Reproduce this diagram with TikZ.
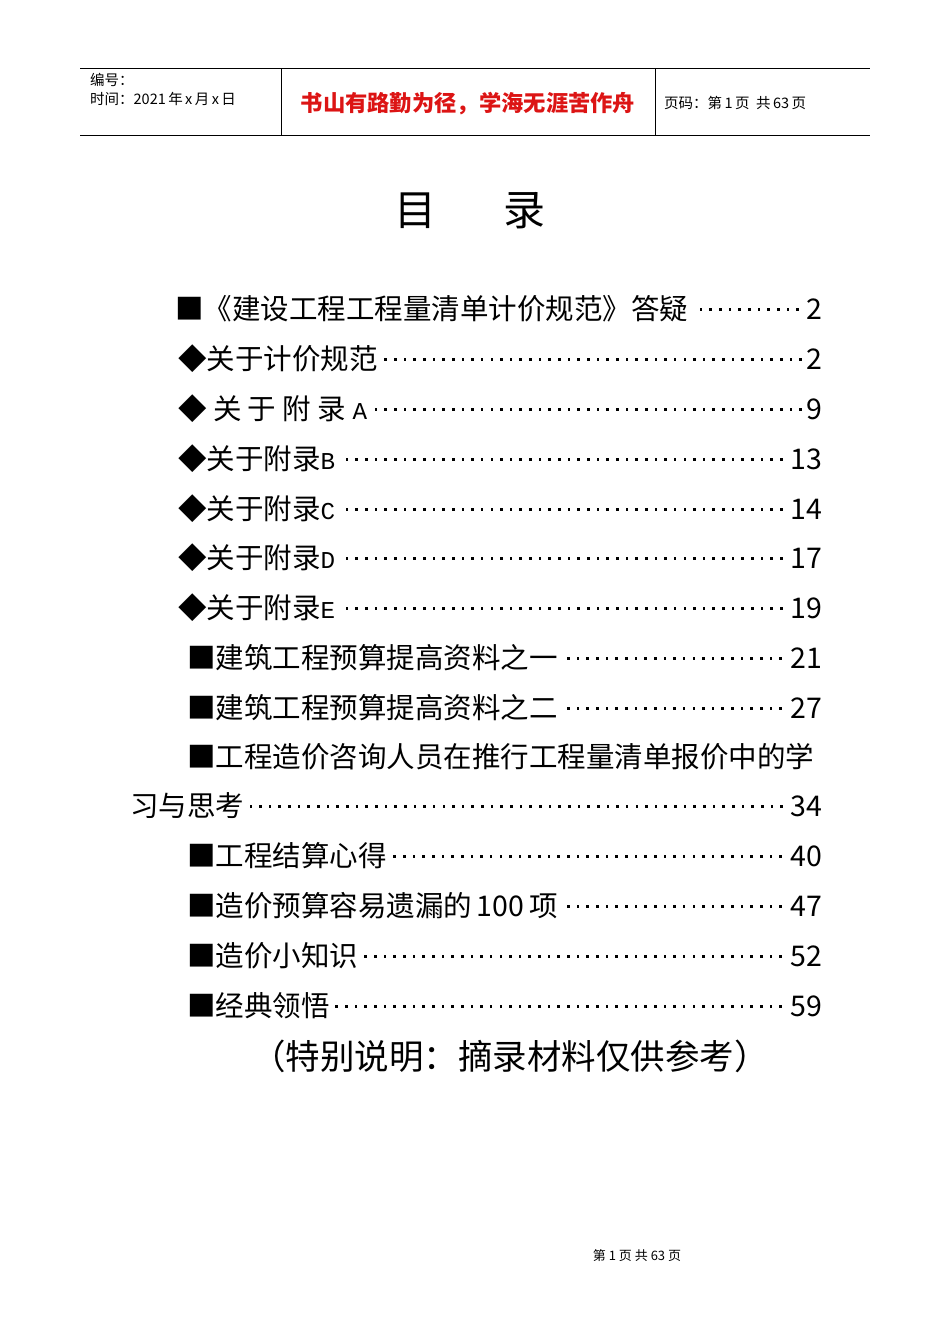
\documentclass[tikz,border=0pt]{standalone}
\usepackage{fontspec}
\setmainfont{Noto Sans CJK SC}
\newfontfamily\lat[Scale=0.85]{Liberation Mono}
\definecolor{redtxt}{RGB}{220,20,20}
\newcommand{\dleader}{\leaders\hbox to 9.65pt{\hss\raisebox{0.32em}{\rule{2.6pt}{2.6pt}}\hss}\hfill}
\newcommand{\entry}[3]{\hbox to #1pt{#2\dleader#3}}
\begin{document}
\begin{tikzpicture}[x=1pt,y=-1pt,
  ent/.style={anchor=west,inner sep=0pt,font=\fontsize{28.5}{30}\selectfont},
  hdr/.style={anchor=west,inner sep=0pt,font=\fontsize{14.5}{16}\selectfont}]
\useasboundingbox (0,0) rectangle (950,1344);
\draw[line width=0.8pt] (80,68) -- (870,68);
\draw[line width=0.8pt] (80,135) -- (870,135);
\draw[line width=0.6pt] (281,68) -- (281,135);
\draw[line width=0.6pt] (655,68) -- (655,135);
\node[hdr] (h1) at (90,80) {编号：};
\node[hdr] (h2) at (90,99) {时间：2021\,年\,x\,月\,x\,日};
\node[anchor=center,inner sep=0pt,text=redtxt,font=\fontsize{22.3}{24}\selectfont\bfseries] (h3) at (468,104) {书山有路勤为径，学海无涯苦作舟};
\node[hdr] (h4) at (664,103) {页码：第\,1\,页\ \ 共\,63\,页};
\node[inner sep=0pt,font=\fontsize{42}{46}\selectfont] (title) at (470,211) {目\hspace{1.6em}录};
\node[ent] (e1) at (175,309) {\entry{647}{■《建设工程工程量清单计价规范》答疑}{2}};
\node[ent] (e2) at (178,359) {\entry{644}{◆关于计价规范}{2}};
\node[ent] (e3) at (178,409) {\entry{644}{◆ 关 于 附 录 {\lat A}}{9}};
\node[ent] (e4) at (178,459) {\entry{644}{◆关于附录{\lat B}}{13}};
\node[ent] (e5) at (178,509) {\entry{644}{◆关于附录{\lat C}}{14}};
\node[ent] (e6) at (178,558) {\entry{644}{◆关于附录{\lat D}}{17}};
\node[ent] (e7) at (178,608) {\entry{644}{◆关于附录{\lat E}}{19}};
\node[ent] (e8) at (187,658) {\entry{635}{■建筑工程预算提高资料之一}{21}};
\node[ent] (e9) at (187,708) {\entry{635}{■建筑工程预算提高资料之二}{27}};
\node[ent] (e10) at (187,757) {\hbox to 635pt{■工程造价咨询人员在推行工程量清单报价中的学\hss}};
\node[ent] (e11) at (130,806) {\entry{692}{习与思考}{34}};
\node[ent] (e12) at (187,856) {\entry{635}{■工程结算心得}{40}};
\node[ent] (e13) at (187,906) {\entry{635}{■造价预算容易遗漏的\,100\,项}{47}};
\node[ent] (e14) at (187,956) {\entry{635}{■造价小知识}{52}};
\node[ent] (e15) at (187,1006) {\entry{635}{■经典领悟}{59}};
\node[inner sep=0pt,font=\fontsize{34.5}{37}\selectfont] (note) at (510,1056) {（特别说明：摘录材料仅供参考）};
\node[inner sep=0pt,font=\fontsize{13}{15}\selectfont] (foot) at (637,1256) {第\ 1\ 页\ 共\ 63\ 页};
\end{tikzpicture}
\end{document}
